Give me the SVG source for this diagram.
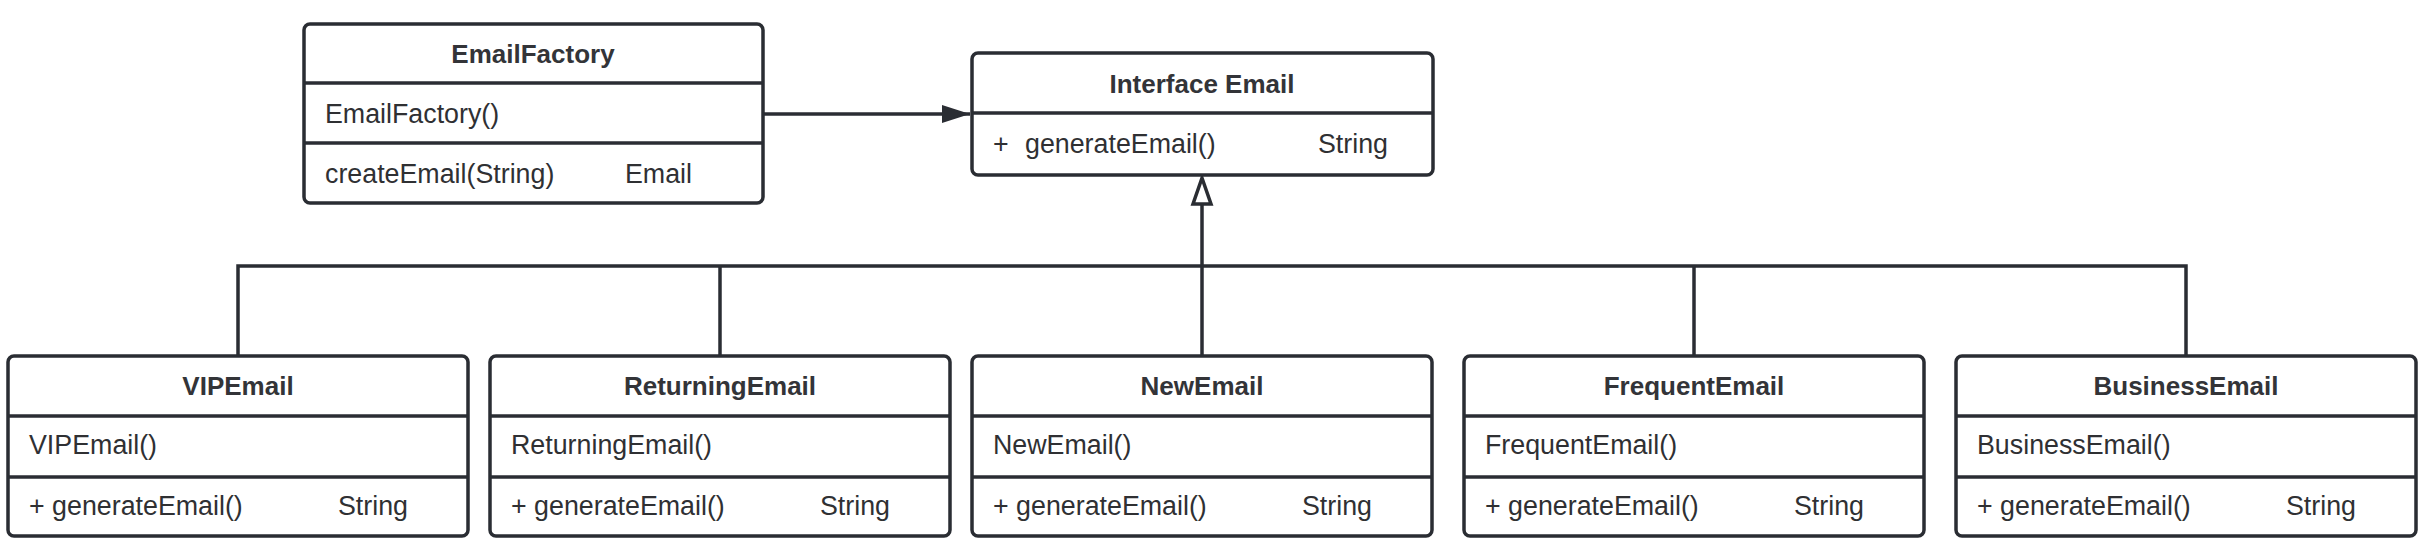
<svg xmlns="http://www.w3.org/2000/svg" width="2434" height="554" viewBox="0 0 2434 554">
<defs>
<style>
.box{fill:#fff;stroke:#2a2d33;stroke-width:3.5}
.div{stroke:#2a2d33;stroke-width:3.5}
.t{font-family:"Liberation Sans",Arial,sans-serif;font-size:26px;font-weight:bold;fill:#333438;text-anchor:middle}
.m{font-family:"Liberation Sans",Arial,sans-serif;font-size:26.8px;fill:#2f3033}
.c{fill:none;stroke:#2a2d33;stroke-width:3.5}
</style>
<marker id="filled" markerUnits="userSpaceOnUse" markerWidth="30" markerHeight="20" refX="28" refY="9" orient="auto">
<path d="M0,0 L28,9 L0,18 Z" fill="#2a2d33"/>
</marker>
</defs>
<rect width="2434" height="554" fill="#fff"/>

<g id="connectors">
<line class="c" x1="763" y1="114" x2="970" y2="114" marker-end="url(#filled)"/>
<polyline class="c" points="238,356 238,266 2186,266 2186,356"/>
<line class="c" x1="720" y1="266" x2="720" y2="356"/>
<line class="c" x1="1202" y1="356" x2="1202" y2="204"/>
<line class="c" x1="1694" y1="266" x2="1694" y2="356"/>
<path d="M1202,178 L1211,204 L1193,204 Z" fill="#fff" stroke="#2a2d33" stroke-width="3.5" stroke-linejoin="miter"/>
</g>

<g id="EmailFactory">
<rect class="box" x="304" y="24" width="459" height="179" rx="6"/>
<line class="div" x1="304" y1="83" x2="763" y2="83"/>
<line class="div" x1="304" y1="143" x2="763" y2="143"/>
<text class="t" x="533" y="63">EmailFactory</text>
<text class="m" x="325" y="123">EmailFactory()</text>
<text class="m" x="325" y="183">createEmail(String)</text>
<text class="m" x="625" y="183">Email</text>
</g>

<g id="InterfaceEmail">
<rect class="box" x="972" y="53" width="461" height="122" rx="6"/>
<line class="div" x1="972" y1="113" x2="1433" y2="113"/>
<text class="t" x="1202" y="93">Interface Email</text>
<text class="m" x="993" y="153">+</text>
<text class="m" x="1025" y="153">generateEmail()</text>
<text class="m" x="1318" y="153">String</text>
</g>

<g id="VIPEmail">
<rect class="box" x="8" y="356" width="460" height="180" rx="6"/>
<line class="div" x1="8" y1="416" x2="468" y2="416"/>
<line class="div" x1="8" y1="477" x2="468" y2="477"/>
<text class="t" x="238" y="395">VIPEmail</text>
<text class="m" x="29" y="454">VIPEmail()</text>
<text class="m" x="29" y="515">+ generateEmail()</text>
<text class="m" x="338" y="515">String</text>
</g>

<g id="ReturningEmail">
<rect class="box" x="490" y="356" width="460" height="180" rx="6"/>
<line class="div" x1="490" y1="416" x2="950" y2="416"/>
<line class="div" x1="490" y1="477" x2="950" y2="477"/>
<text class="t" x="720" y="395">ReturningEmail</text>
<text class="m" x="511" y="454">ReturningEmail()</text>
<text class="m" x="511" y="515">+ generateEmail()</text>
<text class="m" x="820" y="515">String</text>
</g>

<g id="NewEmail">
<rect class="box" x="972" y="356" width="460" height="180" rx="6"/>
<line class="div" x1="972" y1="416" x2="1432" y2="416"/>
<line class="div" x1="972" y1="477" x2="1432" y2="477"/>
<text class="t" x="1202" y="395">NewEmail</text>
<text class="m" x="993" y="454">NewEmail()</text>
<text class="m" x="993" y="515">+ generateEmail()</text>
<text class="m" x="1302" y="515">String</text>
</g>

<g id="FrequentEmail">
<rect class="box" x="1464" y="356" width="460" height="180" rx="6"/>
<line class="div" x1="1464" y1="416" x2="1924" y2="416"/>
<line class="div" x1="1464" y1="477" x2="1924" y2="477"/>
<text class="t" x="1694" y="395">FrequentEmail</text>
<text class="m" x="1485" y="454">FrequentEmail()</text>
<text class="m" x="1485" y="515">+ generateEmail()</text>
<text class="m" x="1794" y="515">String</text>
</g>

<g id="BusinessEmail">
<rect class="box" x="1956" y="356" width="460" height="180" rx="6"/>
<line class="div" x1="1956" y1="416" x2="2416" y2="416"/>
<line class="div" x1="1956" y1="477" x2="2416" y2="477"/>
<text class="t" x="2186" y="395">BusinessEmail</text>
<text class="m" x="1977" y="454">BusinessEmail()</text>
<text class="m" x="1977" y="515">+ generateEmail()</text>
<text class="m" x="2286" y="515">String</text>
</g>
</svg>
